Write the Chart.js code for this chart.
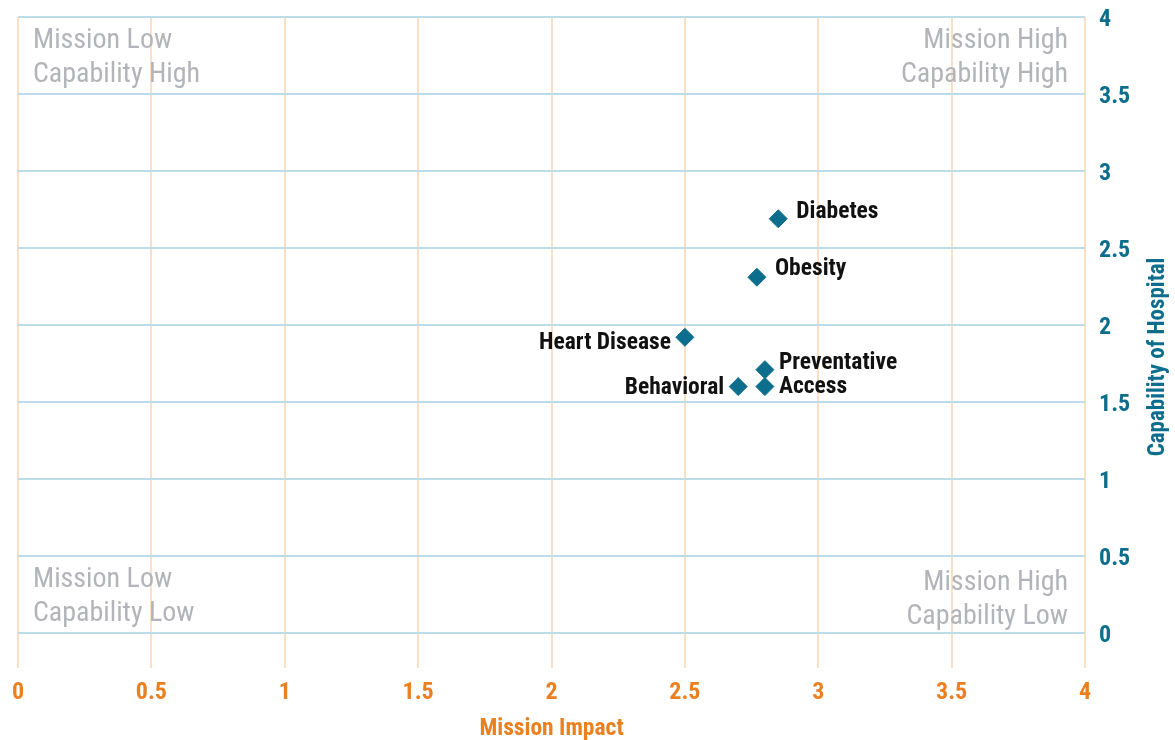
<!DOCTYPE html>
<html>
<head>
<meta charset="utf-8">
<script src="https://cdn.jsdelivr.net/npm/chart.js@4.4.1/dist/chart.umd.min.js"></script>
<style>
  html, body { margin: 0; padding: 0; background: #ffffff; }
  #wrap { width: 1175px; height: 740px; }
</style>
</head>
<body>
<div id="wrap"><canvas id="matrix" width="1175" height="740"></canvas></div>
<script>
// priorities plotted on the matrix
const priorities = ['Diabetes', 'Obesity', 'Heart Disease', 'Preventative', 'Access', 'Behavioral'];
const missionImpact = [2.85, 2.77, 2.50, 2.80, 2.80, 2.70];
const capability = [2.69, 2.31, 1.92, 1.71, 1.60, 1.60];

// where each name sits next to its marker
const labelSide = ['right', 'right', 'left', 'right', 'right', 'left'];
const labelGap = [18, 18, 14, 14, 14, 14];
const labelLift = [-7, -8, 6, -7, 1, 2];

const quadrants = [
    { lines: ['Mission Low', 'Capability High'], corner: 'topLeft' },
    { lines: ['Mission High', 'Capability High'], corner: 'topRight' },
    { lines: ['Mission Low', 'Capability Low'], corner: 'bottomLeft' },
    { lines: ['Mission High', 'Capability Low'], corner: 'bottomRight' }
];

const FONT = '"Liberation Sans Narrow", "Roboto Condensed", "DejaVu Sans Condensed", sans-serif';
const TEAL = '#0c6e8c';
const ORANGE = '#ea801f';
const GREY = '#b3b4b9';

const textPlugin = {
    id: 'matrixText',
    beforeDatasetsDraw(chart) {
        const ctx = chart.ctx;
        const area = chart.chartArea;
        ctx.save();
        ctx.font = '28px ' + FONT;
        ctx.fillStyle = GREY;
        ctx.textBaseline = 'alphabetic';
        quadrants.forEach(q => {
            const left = q.corner.endsWith('Left');
            const top = q.corner.startsWith('top');
            ctx.textAlign = left ? 'left' : 'right';
            const x = left ? area.left + 15 : area.right - 17;
            let y0 = top ? area.top + 31 : area.bottom - 46;
            if (!top && !left) y0 += 3;
            q.lines.forEach((line, i) => {
                ctx.fillText(line, x, y0 + i * 34);
            });
        });
        ctx.restore();
    },
    afterDatasetsDraw(chart) {
        const ctx = chart.ctx;
        const area = chart.chartArea;
        const meta = chart.getDatasetMeta(0);
        ctx.save();
        ctx.font = 'bold 23.5px ' + FONT;
        ctx.fillStyle = '#111111';
        ctx.textBaseline = 'middle';
        meta.data.forEach((pt, i) => {
            const right = labelSide[i] === 'right';
            ctx.textAlign = right ? 'left' : 'right';
            const x = right ? pt.x + labelGap[i] : pt.x - labelGap[i];
            ctx.fillText(priorities[i], x, pt.y + labelLift[i]);
        });

        // axis titles
        ctx.font = 'bold 23.5px ' + FONT;
        ctx.fillStyle = ORANGE;
        ctx.textAlign = 'center';
        ctx.fillText('Mission Impact', (area.left + area.right) / 2, 729);

        ctx.font = 'bold 23px ' + FONT;
        ctx.fillStyle = TEAL;
        ctx.translate(1158, (area.top + area.bottom) / 2 + 32);
        ctx.rotate(-Math.PI / 2);
        ctx.fillText('Capability of Hospital', 0, 0);
        ctx.restore();
    }
};

const plainNumber = value => String(Number(value.toFixed(2)));

new Chart(document.getElementById('matrix'), {
    type: 'scatter',
    data: {
        datasets: [{
            label: 'Priorities',
            data: priorities.map((p, i) => ({ x: missionImpact[i], y: capability[i] })),
            pointStyle: 'rectRot',
            pointRadius: 9,
            pointHoverRadius: 9,
            backgroundColor: TEAL,
            borderColor: TEAL,
            borderWidth: 1
        }]
    },
    options: {
        responsive: true,
        maintainAspectRatio: false,
        animation: false,
        layout: { padding: { left: 18, top: 17, right: 0, bottom: 0 } },
        plugins: {
            legend: { display: false },
            tooltip: { enabled: false }
        },
        scales: {
            x: {
                type: 'linear',
                position: 'bottom',
                min: 0,
                max: 4,
                afterFit: scale => {
                    scale.height = 107;
                    scale.paddingLeft = 0;
                    scale.paddingRight = 0;
                },
                ticks: {
                    stepSize: 0.5,
                    color: ORANGE,
                    padding: 11,
                    callback: plainNumber,
                    font: { family: FONT, size: 24, weight: 'bold' }
                },
                grid: {
                    color: '#fde0c4',
                    lineWidth: 2,
                    tickLength: 35,
                    drawTicks: true
                },
                border: { display: false }
            },
            y: {
                type: 'linear',
                position: 'right',
                min: 0,
                max: 4,
                afterFit: scale => {
                    scale.width = 90;
                    scale.paddingTop = 0;
                    scale.paddingBottom = 0;
                },
                ticks: {
                    stepSize: 0.5,
                    color: TEAL,
                    padding: 14,
                    labelOffset: 3,
                    callback: plainNumber,
                    font: { family: FONT, size: 24, weight: 'bold' }
                },
                grid: {
                    color: '#bcdce8',
                    lineWidth: 2,
                    drawTicks: false
                },
                border: { display: false }
            }
        }
    },
    plugins: [textPlugin]
});
</script>
</body>
</html>
